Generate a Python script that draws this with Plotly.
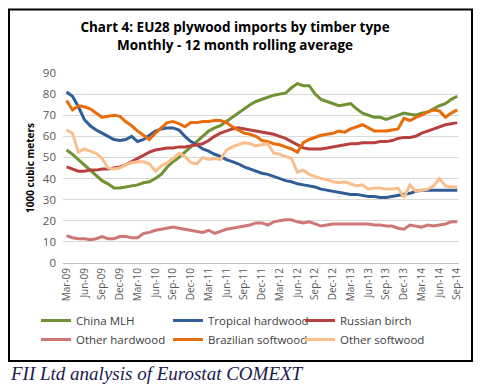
import pandas as pd
import plotly.graph_objects as go

months = list(pd.date_range("2009-03-01", periods=67, freq="MS").strftime("%b-%y"))
tick_labels = months[::3]

china_mlh = [53.5, 51.5, 49, 46.5, 44, 41.5, 39, 37.5, 35.5, 35.5, 36, 36.5, 37, 38, 38.5, 40, 42, 45.5,
             48, 50, 52.5, 55, 57.5, 60, 62.5, 64, 65, 67, 69, 71, 73, 75, 76.5, 77.5, 78.5, 79.5, 80,
             80.5, 83, 85, 84, 84, 80, 77.5, 76.5, 75.5, 74.5, 75, 75.5, 73, 71, 70, 69, 69, 68, 69,
             70, 71, 70.5, 70, 71, 71.5, 73, 74.5, 75.5, 77.5, 79]
tropical_hw = [81, 79, 74, 68, 65, 63, 61.5, 60, 58.5, 58, 58.5, 60, 57.5, 58.5, 60.5, 62.5, 63.5, 64,
               64, 63, 60, 57.5, 56, 54, 53, 51.5, 50.5, 49, 48, 47, 45.5, 44.5, 43.5, 42.5, 42, 41,
               40, 39, 38.5, 37.5, 37, 36.5, 36, 35, 34.5, 34, 33.5, 33, 32.5, 32.5, 32, 31.5, 31.5,
               31, 31, 31.5, 32, 32.5, 33, 34, 34.5, 34.5, 34.5, 34.5, 34.5, 34.5, 34.5]
russian_birch = [45.5, 44.5, 43.5, 43.5, 44, 44, 44.5, 44.5, 45, 45.5, 46.5, 48, 49.5, 51, 52.5, 53.5,
                 54, 54.5, 54.5, 55, 55, 55.5, 56, 56.5, 58, 60, 61.5, 62.5, 63.5, 64, 63.5, 63, 62.5,
                 62, 61.5, 61, 60, 59, 57.5, 56, 54.5, 54, 54, 54, 54.5, 55, 55.5, 56, 56.5, 56.5, 57,
                 57, 57, 57.5, 57.5, 58, 59, 59.5, 59.5, 60, 61.5, 62.5, 63.5, 64.5, 65.5, 66, 66.5]
other_hw = [13, 12, 11.5, 11.5, 11, 11.5, 12.5, 11.5, 11.5, 12.5, 12.5, 12, 12, 14, 14.5, 15.5, 16, 16.5,
            17, 16.5, 16, 15.5, 15, 14.5, 15.5, 14, 15, 16, 16.5, 17, 17.5, 18, 19, 19, 18, 19.5, 20,
            20.5, 20.5, 19.5, 19, 19.5, 18.5, 17.5, 18, 18.5, 18.5, 18.5, 18.5, 18.5, 18.5, 18.5, 18,
            18, 17.5, 17.5, 16.5, 16, 18, 17.5, 17, 18, 17.5, 18, 18.5, 19.5, 19.5]
brazilian_sw = [77, 72.5, 74.5, 74, 73, 71, 69, 69.5, 70, 69.5, 67, 65, 62.5, 60.5, 58.5, 61.5, 64,
                66.5, 67, 66, 64.5, 66.5, 66.5, 67, 67, 67.5, 67.5, 66.5, 64.5, 63, 61.5, 61, 60, 58,
                57.5, 56.5, 56, 55, 54, 52.5, 57, 58.5, 59.5, 60.5, 61, 61.5, 62.5, 62, 63.5, 64.5,
                65.5, 64, 62.5, 62.5, 62.5, 63, 63.5, 68.5, 67.5, 69, 70, 71.5, 72.5, 72, 69, 71, 72.5]
other_sw = [63, 61.5, 52.5, 54, 53, 52, 49.5, 45, 44.5, 45, 46.5, 47.5, 48, 48, 47, 43.5, 46, 47.5, 49.5,
            52, 50.5, 47.5, 47, 50, 49, 49.5, 49, 53.5, 55, 56, 57, 56.5, 55.5, 56, 56.5, 52, 51.5,
            50.5, 49.5, 43, 44, 42, 41, 40, 39.5, 38.5, 38, 38.5, 37.5, 36.5, 37, 35, 35.5, 35.5, 35,
            35, 35.5, 31, 37, 34, 34.5, 35, 36.5, 40, 36.5, 36, 36]

series = [
    ("China MLH", china_mlh, "#709232"),
    ("Tropical hardwood", tropical_hw, "#305E96"),
    ("Russian birch", russian_birch, "#B8403E"),
    ("Other hardwood", other_hw, "#CD7876"),
    ("Brazilian softwood", brazilian_sw, "#E86C0A"),
    ("Other softwood", other_sw, "#FABE8C"),
]

fig = go.Figure()
for name, vals, col in series:
    fig.add_trace(go.Scatter(x=months, y=vals, mode="lines", name=name,
                             line=dict(color=col, width=3)))

# the page has an 8px body margin, so the figure is 8px smaller than the window
OFF = 8
W, H = 487 - OFF, 391 - OFF
# plot area in window pixels: x 63..459, y 73..263
L, R, T, B = 63 - OFF, 487 - 459, 73 - OFF, 391 - 263
pw, ph = 459 - 63, 263 - 73

def px_x(p):  # window pixel -> paper fraction
    return (p - 63) / pw

def px_y(p):
    return (263 - p) / ph

fig.update_layout(
    width=W, height=H,
    margin=dict(l=L, r=R, t=T, b=B, autoexpand=False),
    paper_bgcolor="white", plot_bgcolor="white",
    font=dict(family="Open Sans", color="#404040"),
    showlegend=True,
    legend=dict(orientation="h", x=px_x(36), y=px_y(306), xanchor="left", yanchor="top",
                entrywidth=87, entrywidthmode="pixels", itemwidth=30,
                font=dict(size=11.5, color="#404040"), tracegroupgap=0,
                bgcolor="rgba(0,0,0,0)"),
    title=dict(text="<b>Chart 4: EU28 plywood imports by timber type<br>Monthly - 12 month rolling average</b>",
               x=(235 - OFF) / W, xanchor="center", y=1 - 24 / H, yanchor="top",
               font=dict(size=13.5, color="#000000", family="Open Sans"), automargin=False),
)

fig.update_xaxes(type="category", range=[-0.6, 66.3], tickmode="array",
                 tickvals=tick_labels, ticktext=tick_labels, tickangle=-90,
                 tickfont=dict(size=10, color="#595959"), showgrid=False, automargin=False,
                 showline=True, linecolor="#BFBFBF", linewidth=1, ticks="")
fig.update_yaxes(range=[0, 90], dtick=10, tick0=0, showgrid=True, gridcolor="#D9D9D9",
                 gridwidth=1, zeroline=False, showline=False, automargin=False,
                 tickfont=dict(size=11.5, color="#595959"), ticklabelstandoff=6,
                 title=dict(text="<b>1000 cubic meters</b>", standoff=6,
                            font=dict(size=10, color="#000000")))

fig.add_shape(type="rect", xref="paper", yref="paper",
              x0=px_x(9), x1=px_x(472), y0=px_y(361), y1=px_y(9.5),
              line=dict(color="black", width=2), layer="above")

fig.add_annotation(text="<i>FII Ltd analysis of Eurostat COMEXT</i>", xref="paper", yref="paper",
                   x=px_x(8), y=px_y(373), xanchor="left", yanchor="middle", showarrow=False,
                   font=dict(family="Liberation Serif", size=19, color="#1a1a4e"))

fig.write_html("out.html")
